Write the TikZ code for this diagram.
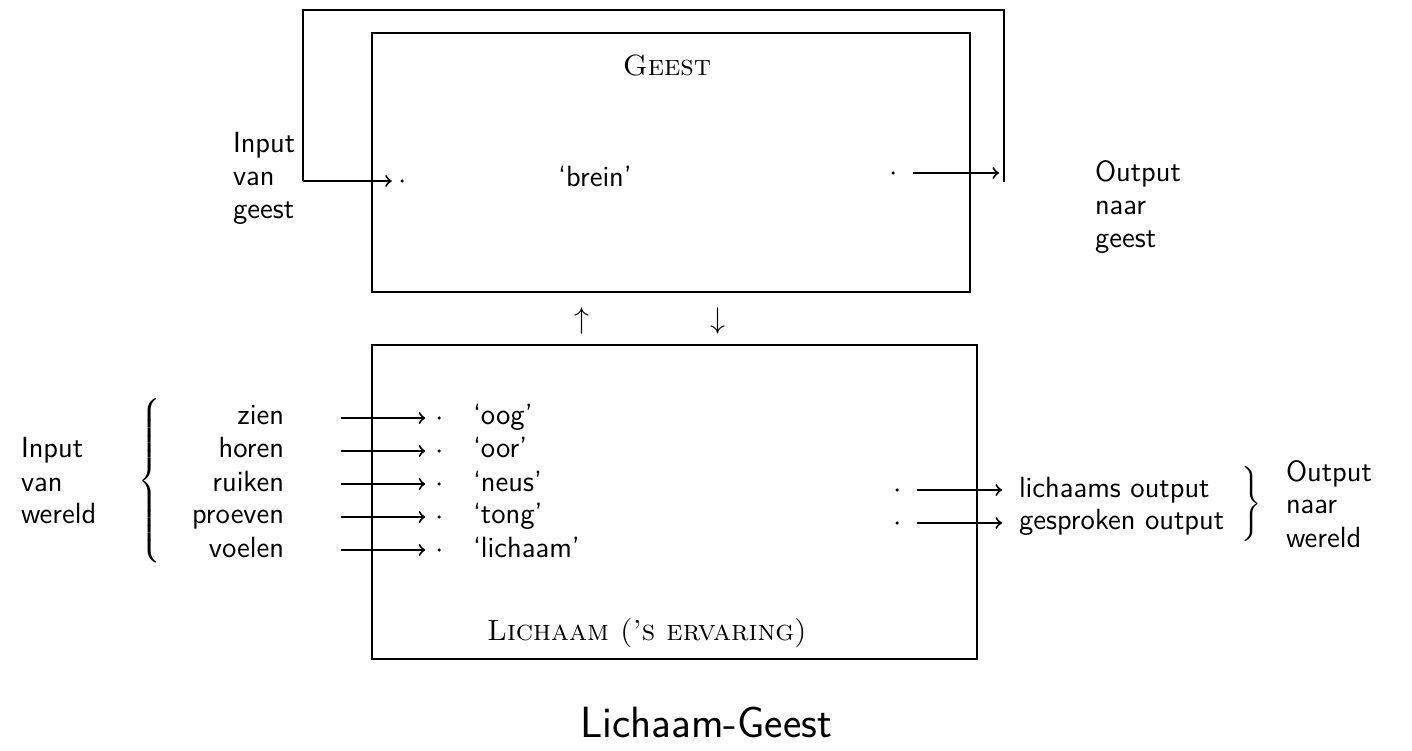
\documentclass[tikz,border=0pt]{standalone}
\usetikzlibrary{fit}
\begin{document}
\begin{tikzpicture}[x=0.4pt,y=-0.4pt,line width=0.8pt,
  every node/.style={font=\fontsize{11.7}{13.2}\selectfont},
  lbl/.style={font=\fontsize{11.7}{13.2}\selectfont\sffamily,inner sep=0pt},
  sc/.style={font=\fontsize{11.7}{13.2}\selectfont\rmfamily\scshape,inner sep=0pt},
  box/.style={draw,inner sep=0pt,line width=0.9pt},
  pt/.style={circle,fill,inner sep=0pt,minimum size=1.4pt},
  arr/.style={->},
  brace/.style={inner sep=0pt}]
\useasboundingbox (0,0) rectangle (1412,751);
% boxes
\coordinate (g1) at (372,33); \coordinate (g2) at (970,292);
\node[box,fit=(g1)(g2)] (geest) {};
\coordinate (l1) at (372,345); \coordinate (l2) at (977,659);
\node[box,fit=(l1)(l2)] (lichaam) {};
% box titles
\node[sc,anchor=base] (gt) at (667,76) {Geest};
\node[lbl,anchor=base] (brein) at (595,187) {`brein'};
\node[sc,anchor=base] (lt) at (647,640) {Lichaam ('s ervaring)};
% top labels
\node[lbl,anchor=base west] (ig1) at (232,153) {Input};
\node[lbl,anchor=base west] (ig2) at (232,186) {van};
\node[lbl,anchor=base west] (ig3) at (232,219) {geest};
\node[lbl,anchor=base west] (og1) at (1094,182) {Output};
\node[lbl,anchor=base west] (og2) at (1094,215) {naar};
\node[lbl,anchor=base west] (og3) at (1094,248) {geest};
% loop
\coordinate (lpT) at (303,10); \coordinate (rpT) at (1004,10);
\coordinate (lpB) at (303,181); \coordinate (rpB) at (1004,182);
\coordinate (rA) at (1004,173);
\node[pt] (din) at (402,181) {};
\node[pt] (dout) at (893,173) {};
\draw (rpB) -- (rpT) -- (lpT) -- (lpB);
\draw[arr,shorten >=3pt] (lpB) -- (din);
\draw[arr,shorten <=7pt,shorten >=2pt] (dout) -- (rA);
% up/down
\node[inner sep=0pt] (up) at (582,321) {$\uparrow$};
\node[inner sep=0pt] (dn) at (718,321) {$\downarrow$};
% senses
\foreach \i/\s/\q/\y in {1/zien/oog/425,2/horen/oor/458,3/ruiken/neus/491,4/proeven/tong/524,5/voelen/lichaam/557}{
  \node[lbl,anchor=base east] (s\i) at (285,\y) {\s};
  \node[lbl,anchor=base west] (q\i) at (472,\y) {`\q'};
  \coordinate (a\i) at (341,\y-7);
  \node[pt] (d\i) at (439,\y-7) {};
  \draw[arr,shorten >=4.4pt] (a\i) -- (d\i);
}
\node[lbl,anchor=base west] (iw1) at (20,458) {Input};
\node[lbl,anchor=base west] (iw2) at (20,491) {van};
\node[lbl,anchor=base west] (iw3) at (20,524) {wereld};
\node[brace] (lbr) at (151,484) {$\left\{\vrule height 32.5pt depth 32.5pt width 0pt\right.$};
% outputs
\foreach \i/\t/\y in {1/lichaams output/497,2/gesproken output/530}{
  \node[pt] (od\i) at (897,\y-7) {};
  \node[lbl,anchor=base west] (ol\i) at (1018,\y) {\t};
  \coordinate (oe\i) at (1002,\y-7);
  \draw[arr,shorten <=7pt] (od\i) -- (oe\i);
}
\node[brace] (rbr) at (1250,505) {$\left.\vrule height 13pt depth 13pt width 0pt\right\}$};
\node[lbl,anchor=base west] (ow1) at (1285,481) {Output};
\node[lbl,anchor=base west] (ow2) at (1285,514) {naar};
\node[lbl,anchor=base west] (ow3) at (1285,547) {wereld};
% title
\node[lbl,font=\sffamily\fontsize{17.5}{21}\selectfont,anchor=base] (title) at (706,737) {Lichaam-Geest};
\end{tikzpicture}
\end{document}
